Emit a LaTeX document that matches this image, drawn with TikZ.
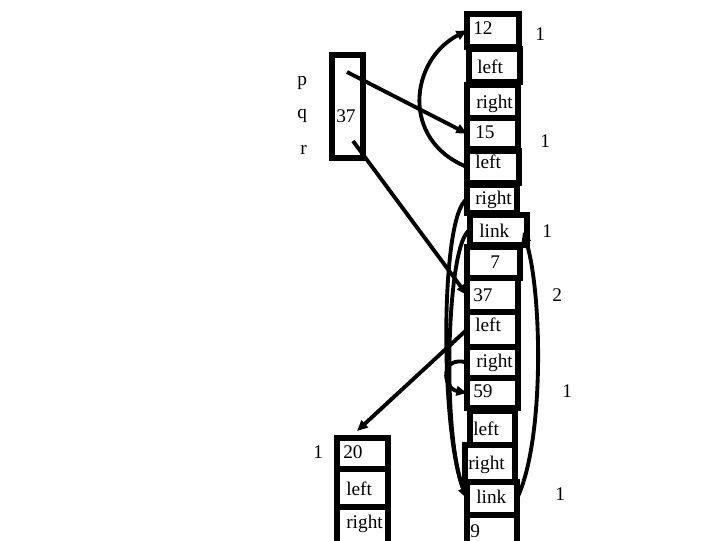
\documentclass[tikz,border=0pt]{standalone}
\usepackage{fontspec}
\setmainfont{Liberation Serif}
\usetikzlibrary{arrows.meta}
\begin{document}
\begin{tikzpicture}[x=0.75pt,y=-0.75pt,
  cellbox/.style={draw,line width=4pt,inner sep=0pt,outer sep=0pt},
  txt/.style={inner sep=0pt,anchor=base west,font=\fontsize{14.5}{16}\selectfont},
  conn/.style={line width=2.9pt,-{Triangle[length=8pt,width=7pt]}}]
\useasboundingbox (0,0) rectangle (720,540);
% main column
\node[cellbox,minimum width=39pt,minimum height=24.75pt] (b12) at (493,30.5) {};
\node[cellbox,minimum width=38.25pt,minimum height=24.75pt] (bl1) at (494.5,65.5) {};
\node[cellbox,minimum width=38.25pt,minimum height=24.75pt] (br1) at (492.5,101.5) {};
\node[cellbox,minimum width=38.25pt,minimum height=23.25pt] (b15) at (492.5,133.5) {};
\node[cellbox,minimum width=39pt,minimum height=24pt] (bl2) at (493,167) {};
\node[cellbox,minimum width=37.5pt,minimum height=21pt] (br2) at (492,199) {};
\node[cellbox,minimum width=42.75pt,minimum height=22.5pt] (blk1) at (498.5,230) {};
\node[cellbox,minimum width=39.75pt,minimum height=23.25pt] (b7) at (493.5,262.5) {};
\node[cellbox,minimum width=38.25pt,minimum height=25.5pt] (b37) at (492.5,295) {};
\node[cellbox,minimum width=38.25pt,minimum height=26.25pt] (bl3) at (492.5,329.5) {};
\node[cellbox,minimum width=38.25pt,minimum height=23.25pt] (br3) at (492.5,362.5) {};
\node[cellbox,minimum width=38.25pt,minimum height=22.5pt] (b59) at (492.5,393) {};
\node[cellbox,minimum width=33.75pt,minimum height=25.5pt] (bl4) at (492.5,428) {};
\node[cellbox,minimum width=37.5pt,minimum height=27.75pt] (br4) at (490,463.5) {};
\node[cellbox,minimum width=37.5pt,minimum height=24.75pt] (blk2) at (492,498.5) {};
\node[cellbox,minimum width=37.5pt,minimum height=24.75pt] (b9) at (492,531.5) {};
% small node
\node[cellbox,minimum width=38.25pt,minimum height=23.25pt] (b20) at (362.5,453.5) {};
\node[cellbox,minimum width=38.25pt,minimum height=28.5pt] (bl5) at (362.5,488) {};
\node[cellbox,minimum width=38.25pt,minimum height=30.75pt] (br5) at (362.5,527.5) {};
% pointer box
\node[cellbox,minimum width=23.25pt,minimum height=77.25pt] (pqr) at (347.5,106.5) {};
% texts in boxes
\node[txt] (t12) at (473,34) {12};
\node[txt] (tl1) at (477,73) {left};
\node[txt] (tr1) at (476,108) {right};
\node[txt] (t15) at (475,138) {15};
\node[txt] (tl2) at (475,168) {left};
\node[txt] (tr2) at (475,204) {right};
\node[txt] (tk1) at (479,237) {link};
\node[txt] (t7) at (490,268) {7};
\node[txt] (t37) at (473,301) {37};
\node[txt] (tl3) at (475,331) {left};
\node[txt] (tr3) at (476,367) {right};
\node[txt] (t59) at (473,397) {59};
\node[txt] (tl4) at (473,435) {left};
\node[txt] (tr4) at (468,469) {right};
\node[txt] (tk2) at (476,503) {link};
\node[txt] (t9) at (470,537) {9};
\node[txt] (t20) at (343,458) {20};
\node[txt] (tl5) at (346,495) {left};
\node[txt] (tr5) at (346,528) {right};
\node[txt] (tv37) at (336,122) {37};
% side labels
\node[txt] (lp) at (297,85) {p};
\node[txt] (lq) at (297,118) {q};
\node[txt] (lr) at (300,154) {r};
\node[txt] (n1) at (535,40) {1};
\node[txt] (n2) at (540,147) {1};
\node[txt] (n3) at (542,237) {1};
\node[txt] (n4) at (552,301) {2};
\node[txt] (n5) at (562,397) {1};
\node[txt] (n6) at (555,500) {1};
\node[txt] (n7) at (313,458) {1};
% connectors
\coordinate (pp) at (347,72);
\coordinate (rp) at (353,141);
\coordinate (to20) at (357,431);
\coordinate (tolk1) at (523,232);
\draw[conn] (pp) -- (b15.west);
\draw[conn] (rp) -- (b37.west);
\draw[conn] (bl2.west) .. controls (400,140) and (410,60) .. (b12.west);
\draw[conn] (br2.west) .. controls (440,215) and (440,430) .. (blk2.west);
\draw[conn] (blk1.west) .. controls (447,240) and (441,432) .. (blk2.west);
\draw[conn] (br3.west) .. controls (440,355) and (442,388) .. (b59.west);
\draw[conn] (bl3.west) -- (to20);
\draw[conn] (blk2.east) .. controls (545,440) and (542,290) .. (tolk1);
\end{tikzpicture}
\end{document}
